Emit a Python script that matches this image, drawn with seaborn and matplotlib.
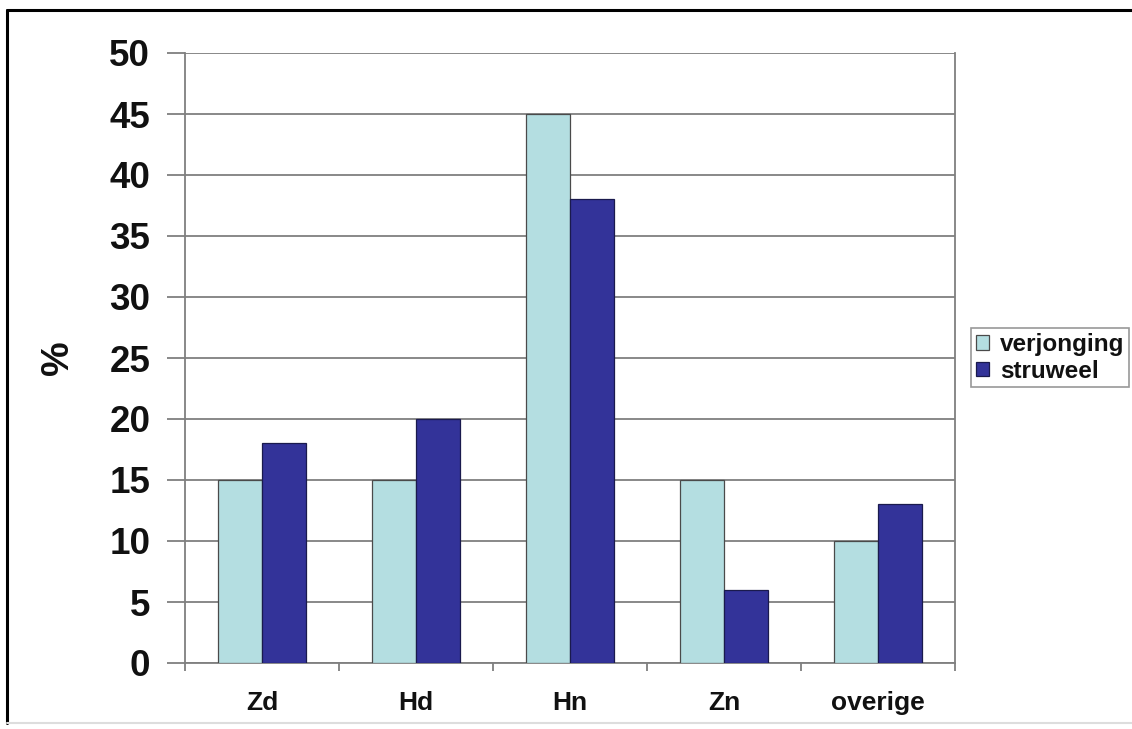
import matplotlib
matplotlib.use("Agg")
import matplotlib.pyplot as plt
from matplotlib.lines import Line2D
from matplotlib.ticker import FixedLocator
import pandas as pd
import seaborn as sns

# Share of each tree group (%) for regeneration and scrub
categories = ["Zd", "Hd", "Hn", "Zn", "overige"]
verjonging = [15, 15, 45, 15, 10]
struweel = [18, 20, 38, 6, 13]
series_names = ["verjonging", "struweel"]
y_ticks = list(range(0, 55, 5))

df = pd.DataFrame({
    "cat": categories * 2,
    "val": verjonging + struweel,
    "series": [series_names[0]] * len(categories) + [series_names[1]] * len(categories),
})

sns.set_theme(style="white")
plt.rcParams["font.family"] = ["Liberation Sans", "DejaVu Sans"]
plt.rcParams["font.weight"] = "bold"

light = "#B4DEE1"
dark = "#333399"
grid_col = "#7f7f7f"
text_col = "#111111"

fig = plt.figure(figsize=(11.32, 7.29), dpi=100)
ax = fig.add_axes([185 / 1132, 1 - 663 / 729, 770 / 1132, 610 / 729])

sns.barplot(data=df, x="cat", y="val", hue="series", order=categories,
            hue_order=series_names, palette=[light, dark], width=0.575,
            saturation=1, ax=ax, legend=True, zorder=3)

for bar in ax.patches:
    fc = bar.get_facecolor()
    bar.set_edgecolor("#4a4a4a" if fc[0] > 0.5 else "#1a1a4d")
    bar.set_linewidth(0.9)

ax.set_xlim(-0.5, len(categories) - 0.5)
ax.set_ylim(0, 50)
ax.set_yticks(y_ticks)
ax.set_yticklabels([str(t) for t in y_ticks])
ax.yaxis.grid(True, color=grid_col, linewidth=1.3, zorder=0)
ax.set_axisbelow(True)

for side in ["left", "right", "bottom"]:
    ax.spines[side].set_visible(True)
    ax.spines[side].set_color(grid_col)
    ax.spines[side].set_linewidth(1.3)
ax.spines["top"].set_visible(False)

ax.tick_params(axis="y", which="major", direction="out", length=13, width=1.3,
               color=grid_col, pad=12, labelsize=26.5, labelcolor=text_col, left=True)
ax.tick_params(axis="x", which="major", length=0, pad=20, labelsize=19,
               labelcolor=text_col)
ax.xaxis.set_minor_locator(FixedLocator([i - 0.5 for i in range(len(categories) + 1)]))
ax.tick_params(axis="x", which="minor", direction="out", length=6, width=1.3,
               color=grid_col, bottom=True)
for lab in ax.get_yticklabels() + ax.get_xticklabels():
    lab.set_fontweight("bold")

ax.set_xlabel("")
ax.set_ylabel("%", fontsize=28, fontweight="bold", color=text_col)
ax.yaxis.set_label_coords(-0.142, 0.5)

ax.get_legend().remove()
leg = fig.legend(
    handles=[plt.Rectangle((0, 0), 1, 1, facecolor=light, edgecolor="#4a4a4a", linewidth=0.9),
             plt.Rectangle((0, 0), 1, 1, facecolor=dark, edgecolor="#1a1a4d", linewidth=0.9)],
    labels=series_names, loc="upper left",
    bbox_to_anchor=(971 / 1132, 1 - 328 / 729), bbox_transform=fig.transFigure,
    prop={"weight": "bold", "size": 17.5}, frameon=True, fancybox=False,
    edgecolor=grid_col, borderpad=0.2, handlelength=0.55, handleheight=0.55,
    handletextpad=0.45, labelspacing=0.15, borderaxespad=0,
)
leg.get_frame().set_linewidth(1.2)
for t in leg.get_texts():
    t.set_color(text_col)

# Outer frame lines along the left, top and bottom of the figure
fig.add_artist(Line2D([7 / 1132, 7 / 1132], [1 - 723 / 729, 1 - 10 / 729], transform=fig.transFigure,
                      color="black", linewidth=2.2))
fig.add_artist(Line2D([7 / 1132, 1], [1 - 10 / 729, 1 - 10 / 729], transform=fig.transFigure,
                      color="black", linewidth=2.2))
fig.add_artist(Line2D([7 / 1132, 1], [1 - 723 / 729, 1 - 723 / 729], transform=fig.transFigure,
                      color="#dddddd", linewidth=1.5))

fig.savefig("out.png", dpi=100)
